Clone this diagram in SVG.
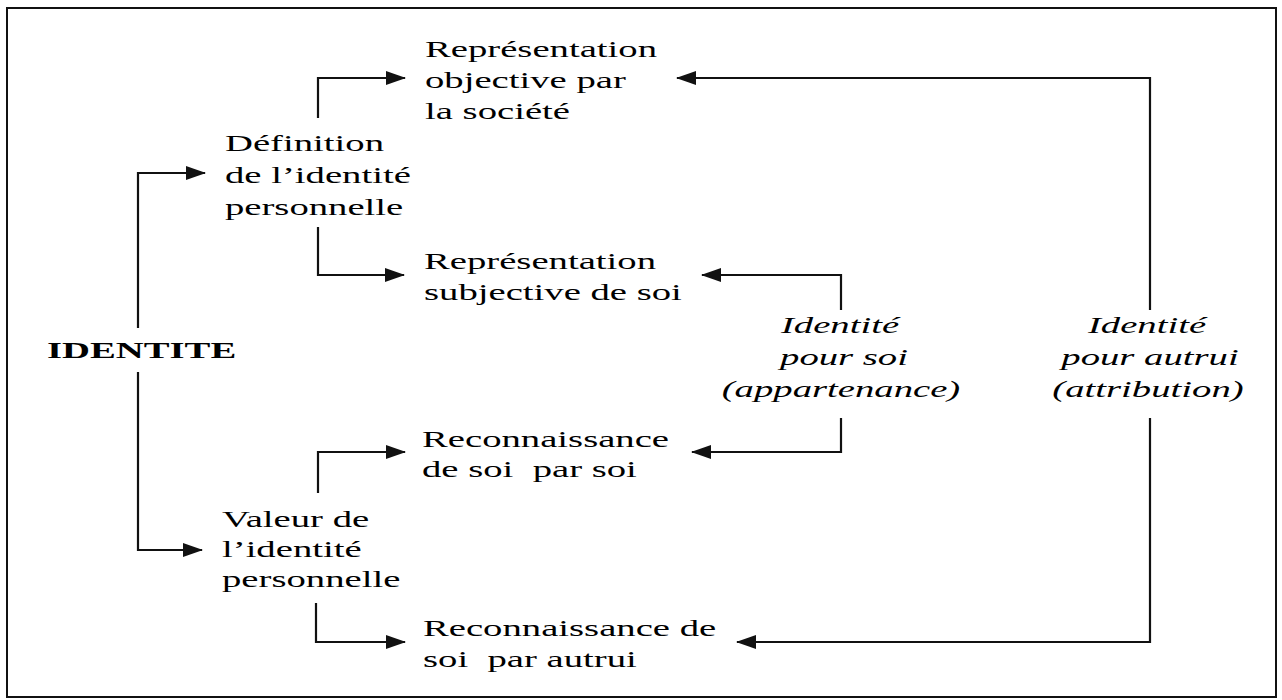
<svg xmlns="http://www.w3.org/2000/svg" width="1282" height="700" viewBox="0 0 1282 700">
<style>
text{font-family:"Liberation Serif","Times New Roman",serif;font-size:22.5px;fill:#000;white-space:pre}
.b{font-weight:bold}
.i{font-style:italic;text-anchor:middle}
.c{fill:none;stroke:#111;stroke-width:2.2;marker-end:url(#ah)}
</style>
<defs>
<marker id="ah" markerUnits="userSpaceOnUse" markerWidth="20" markerHeight="14" refX="19" refY="7" orient="auto">
<path d="M0,0 L20,7 L0,14 z" fill="#111"/>
</marker>
</defs>
<rect x="7" y="8" width="1269" height="689" fill="#fff" stroke="#111" stroke-width="2"/>
<g id="connectors">
<path class="c" d="M138,328 V173 H205"/>
<path class="c" d="M138,372 V550 H202"/>
<path class="c" d="M318,118 V78 H405"/>
<path class="c" d="M318,227 V275 H404"/>
<path class="c" d="M318,493 V452 H405"/>
<path class="c" d="M316,603 V642 H405"/>
<path class="c" d="M841,310 V275 H702"/>
<path class="c" d="M841,418 V452 H692"/>
<path class="c" d="M1150,310 V78 H677"/>
<path class="c" d="M1150,418 V642 H737"/>
</g>
<g id="identite" transform="scale(1.72,1)">
<text class="b" x="27.33" y="358">IDENTITE</text>
</g>
<g id="definition" transform="scale(1.72,1)">
<text x="130.81" y="151">Définition</text>
<text x="130.81" y="183">de l’identité</text>
<text x="130.81" y="215">personnelle</text>
</g>
<g id="valeur" transform="scale(1.72,1)">
<text x="129.07" y="527">Valeur de</text>
<text x="129.07" y="557">l’identité</text>
<text x="129.07" y="587">personnelle</text>
</g>
<g id="rep-objective" transform="scale(1.72,1)">
<text x="247.09" y="57">Représentation</text>
<text x="247.09" y="88">objective par</text>
<text x="247.09" y="119">la société</text>
</g>
<g id="rep-subjective" transform="scale(1.72,1)">
<text x="246.51" y="269">Représentation</text>
<text x="246.51" y="300">subjective de soi</text>
</g>
<g id="rec-soi" transform="scale(1.72,1)">
<text x="245.35" y="447">Reconnaissance</text>
<text x="245.35" y="477">de soi  par soi</text>
</g>
<g id="rec-autrui" transform="scale(1.72,1)">
<text x="245.93" y="636">Reconnaissance de</text>
<text x="245.93" y="667">soi  par autrui</text>
</g>
<g id="pour-soi" transform="scale(1.72,1)">
<text class="i" x="488.37" y="333">Identité</text>
<text class="i" x="490.7" y="365">pour soi</text>
<text class="i" x="488.95" y="397">(appartenance)</text>
</g>
<g id="pour-autrui" transform="scale(1.72,1)">
<text class="i" x="666.86" y="333">Identité</text>
<text class="i" x="668.6" y="365">pour autrui</text>
<text class="i" x="667.44" y="397">(attribution)</text>
</g>
</svg>
